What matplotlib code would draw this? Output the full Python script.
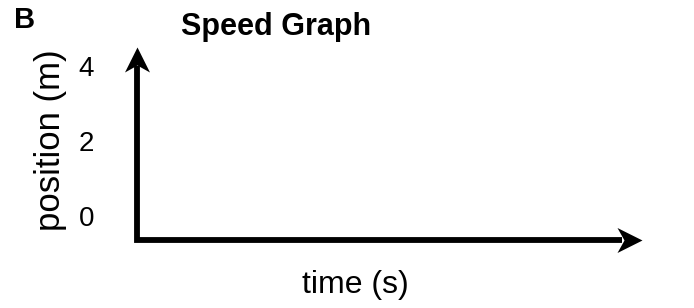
import matplotlib
matplotlib.use("Agg")
import matplotlib.pyplot as plt
from matplotlib.path import Path

panel_label = "B"
title = "Speed Graph"
x_label = "time (s)"
y_label = "position (m)"
y_ticks = [0, 2, 4]
y_range = (-0.64, 4.507)

plt.rcParams['font.family'] = ['Liberation Sans', 'DejaVu Sans']

# notched arrowhead, tip at the origin, pointing right
head_right = Path([(0, 0), (-1, 0.5), (-0.72, 0), (-1, -0.5), (0, 0)],
                  [Path.MOVETO, Path.LINETO, Path.LINETO, Path.LINETO, Path.CLOSEPOLY])
head_up = Path([(0, 0), (0.5, -1), (0, -0.72), (-0.5, -1), (0, 0)],
               [Path.MOVETO, Path.LINETO, Path.LINETO, Path.LINETO, Path.CLOSEPOLY])


def main():
    fig = plt.figure(figsize=(6.94, 3.08), dpi=100)
    ax = fig.add_axes([137 / 694, 68 / 308, 505 / 694, 193 / 308])
    ax.set_xlim(0, 1)
    ax.set_ylim(*y_range)
    for side in ax.spines.values():
        side.set_visible(False)

    ax.set_xticks([])
    ax.set_yticks(y_ticks)
    ax.set_yticklabels([str(t) for t in y_ticks], fontsize=20)
    ax.tick_params(axis='y', length=0, pad=31)

    # axes lines with a square corner, ending just behind the heads
    lw = 4.2
    ax.plot([0, 0, 0.96], [0.9, 0, 0], transform=ax.transAxes, color='black',
            lw=lw, solid_joinstyle='miter', solid_capstyle='butt', clip_on=False)
    ax.plot([0], [1], transform=ax.transAxes, marker=head_up, ms=36,
            color='black', mew=0, clip_on=False)
    ax.plot([1], [0], transform=ax.transAxes, marker=head_right, ms=36,
            color='black', mew=0, clip_on=False)

    ax.set_ylabel(y_label, fontsize=25)
    ax.yaxis.label.set_va('center')
    ax.yaxis.set_label_coords(-0.172, 0.518)
    ax.set_xlabel(x_label, fontsize=23)
    ax.xaxis.label.set_va('baseline')
    ax.xaxis.set_label_coords(0.432, -0.275)

    fig.text(276.5 / 694, 1 - 35 / 308, title, fontsize=22, fontweight='bold',
             ha='center', va='baseline')
    fig.text(25 / 694, 1 - 28 / 308, panel_label, fontsize=21, fontweight='bold',
             ha='center', va='baseline')

    fig.savefig("out.png", dpi=100)


if __name__ == "__main__":
    main()
